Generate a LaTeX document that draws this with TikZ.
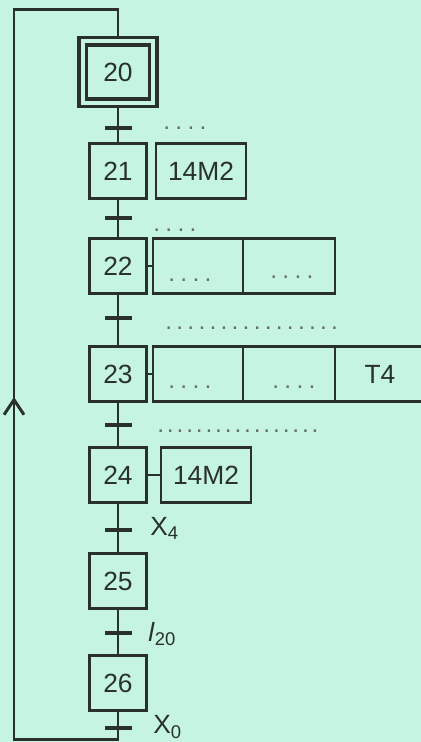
\documentclass[tikz,border=0pt]{standalone}
\usepackage{fontspec}
\setmainfont{Liberation Sans}
\usetikzlibrary{arrows.meta}
\definecolor{fond}{RGB}{197,245,226}
\definecolor{trait}{RGB}{42,48,44}
\newcommand{\pointilles}[2]{\foreach \k in {1,...,#1}{.\kern#2}}

\begin{document}
\begin{tikzpicture}[x=0.02cm, y=-0.02cm]
    % Styles for steps, actions and links
    \tikzset{
      etape/.style={rectangle, draw=trait, line width=1.8pt, minimum width=1.14cm, minimum height=1.1cm, inner sep=0pt, font=\fontsize{15}{18}\selectfont, text=trait},
      action/.style={rectangle, draw=trait, line width=1.6pt, minimum width=1.8cm, minimum height=1.1cm, inner sep=0pt, font=\fontsize{15}{18}\selectfont, text=trait},
      barre/.style={rectangle, fill=trait, minimum width=0.54cm, minimum height=2.6pt, inner sep=0pt},
      lien/.style={line width=1.7pt, draw=trait},
      pts/.style={inner sep=0pt, anchor=west, text=trait!70, font=\fontsize{14}{18}\selectfont},
      recep/.style={inner sep=0pt, anchor=west, text=trait, font=\fontsize{15}{18}\selectfont}
    }

    \useasboundingbox[fill=fond] (0,0) rectangle (421,742);

    % Steps with explicit coordinates
    \node[etape, minimum width=1.56cm, minimum height=1.38cm] (e20) at (118,72) {};
    \node[etape, minimum width=1.26cm, minimum height=1.08cm] (e20in) at (118,72) {20};
    \node[etape] (e21) at (118,171) {21};
    \node[etape] (e22) at (118,266) {22};
    \node[etape] (e23) at (118,374) {23};
    \node[etape] (e24) at (118,475) {24};
    \node[etape] (e25) at (118,581) {25};
    \node[etape] (e26) at (118,683) {26};

    % Actions
    \node[action] (a21) at (201,171) {14M2};
    \node[action] (a22a) at (198,266) {};
    \node[action, minimum width=1.84cm] (a22b) at (289,266) {};
    \node[action] (a23a) at (198,374) {};
    \node[action, minimum width=1.84cm] (a23b) at (289,374) {};
    \node[action] (a23c) at (380,374) {T4};
    \node[action] (a24) at (206,475) {14M2};

    % Transitions
    \node[barre] (t1) at (118,128) {};
    \node[barre] (t2) at (118,218) {};
    \node[barre] (t3) at (118,318) {};
    \node[barre] (t4) at (118,425) {};
    \node[barre] (t5) at (118,530) {};
    \node[barre] (t6) at (118,633) {};
    \node[barre] (t7) at (118,728) {};

    % Links between steps
    \draw[lien] (e20) -- (e21) -- (e22) -- (e23) -- (e24) -- (e25) -- (e26);
    \draw[lien] (e22) -- (a22a);
    \draw[lien] (e23) -- (a23a);
    \draw[lien] (e24) -- (a24);

    % Loop back to the initial step
    \coordinate (bas) at (118,739);
    \coordinate (basG) at (14,739);
    \coordinate (hautG) at (14,10);
    \coordinate (haut) at (118,10);
    \draw[lien] (e26) -- (bas) -- (basG) -- (hautG) -- (haut) -- (e20);
    \coordinate (fl1) at (14,420);
    \coordinate (fl2) at (14,397);
    \draw[lien, -{Straight Barb[length=0.3cm, width=0.4cm, line width=1.7pt]}] (fl1) -- (fl2);

    % Receptivities
    \node[pts] (p1) at (163,128) {\pointilles{4}{3pt}};
    \node[pts] (p2) at (153,230) {\pointilles{4}{3pt}};
    \node[pts] (p3) at (165,328) {\pointilles{16}{2.4pt}};
    \node[pts] (p4) at (157,431) {\pointilles{17}{1.6pt}};
    \node[pts] (p22a) at (168,280) {\pointilles{4}{3pt}};
    \node[pts] (p22b) at (270,277) {\pointilles{4}{3pt}};
    \node[pts] (p23a) at (168,387) {\pointilles{4}{3pt}};
    \node[pts] (p23b) at (272,387) {\pointilles{4}{3pt}};
    \node[recep] (r5) at (150,528) {X\textsubscript{4}};
    \node[recep] (r6) at (148,634) {\textit{l}\textsubscript{20}};
    \node[recep] (r7) at (153,727) {X\textsubscript{0}};

\end{tikzpicture}
\end{document}
